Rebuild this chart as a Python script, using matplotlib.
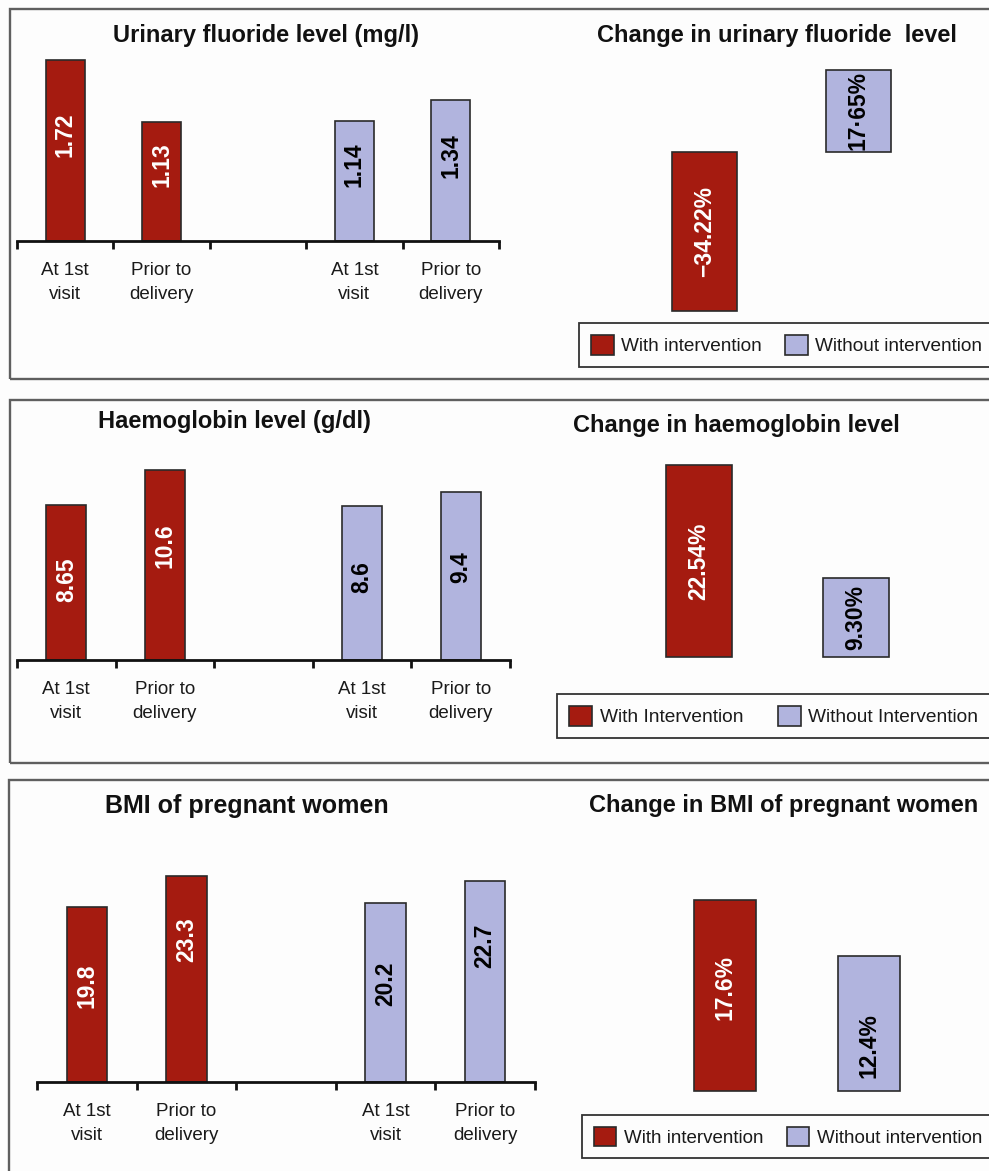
import numpy as np
import matplotlib
matplotlib.use('Agg')
import matplotlib.pyplot as plt
from matplotlib.patches import Rectangle, Patch

plt.rcParams['font.family'] = ['Liberation Sans', 'DejaVu Sans']

# ---------------- data ----------------
categories = ['At 1st\nvisit', 'Prior to\ndelivery', '', 'At 1st\nvisit', 'Prior to\ndelivery']

fluoride_with = [1.72, 1.13]
fluoride_without = [1.14, 1.34]
fluoride_change = [-34.22, 17.65]
fluoride_change_labels = ['\u221234.22%', '17\u00b765%']

hb_with = [8.65, 10.6]
hb_without = [8.6, 9.4]
hb_change = [22.54, 9.30]
hb_change_labels = ['22.54%', '9.30%']

bmi_with = [19.8, 23.3]
bmi_without = [20.2, 22.7]
bmi_change = [17.6, 12.4]
bmi_change_labels = ['17.6%', '12.4%']

titles_left = ['Urinary fluoride level (mg/l)', 'Haemoglobin level (g/dl)', 'BMI of pregnant women']
titles_right = ['Change in urinary fluoride  level', 'Change in haemoglobin level',
                'Change in BMI of pregnant women']
legend_labels = [['With intervention', 'Without intervention'],
                 ['With Intervention', 'Without Intervention'],
                 ['With intervention', 'Without intervention']]

# ---------------- style ----------------
W, H = 989, 1171
RED = '#A51B10'
BLUE = '#B1B4DE'
EDGE = '#2A2A2A'
FRAME = '#5F5F5F'

fig = plt.figure(figsize=(W / 100, H / 100), dpi=100)
fig.patch.set_facecolor('#FDFDFD')


def px_axes(x0, y0, x1, y1):
    ax = fig.add_axes([x0 / W, 1 - y1 / H, (x1 - x0) / W, (y1 - y0) / H])
    ax.patch.set_alpha(0)
    return ax


def left_chart(x0, x1, y_base, scale, with_vals, without_vals, label_pos, title, title_xy,
               title_size=17):
    top_px = 230
    ax = px_axes(x0, y_base - top_px, x1, y_base)
    ax.set_xlim(-0.5, 4.5)
    ax.set_ylim(0, top_px / scale)
    vals = list(with_vals) + list(without_vals)
    xs = [0, 1, 3, 4]
    cols = [RED, RED, BLUE, BLUE]
    ax.bar(xs, vals, width=0.405, color=cols, edgecolor=EDGE, linewidth=1.2, zorder=2)
    for x, v, f, c in zip(xs, vals, label_pos, cols):
        ax.text(x, v * f, f'{v:g}', rotation=90, ha='center', va='center',
                fontsize=16.5, fontweight='bold',
                color='white' if c == RED else 'black', zorder=3)
    for s in ['top', 'right', 'left']:
        ax.spines[s].set_visible(False)
    ax.spines['bottom'].set_linewidth(2.0)
    ax.spines['bottom'].set_color('#111111')
    ax.set_yticks([])
    ax.set_xticks(range(5))
    ax.set_xticklabels(categories, fontsize=13.5, linespacing=1.55, color='#1a1a1a')
    ax.tick_params(axis='x', which='major', length=0, pad=15)
    ax.set_xticks(np.arange(-0.5, 5, 1), minor=True)
    ax.tick_params(axis='x', which='minor', length=6, width=2, direction='out', color='#111111')
    fig.text(title_xy[0] / W, 1 - title_xy[1] / H, title, ha='center', va='baseline',
             fontsize=title_size, fontweight='bold', color='#111111')
    return ax


def right_chart(cx_red, cx_blue, bar_px, y_top, y_bot, y_zero, scale, values, labels,
                label_frac, title, title_xy, leg_labels, leg_xy, colspace, leg_size):
    slot = cx_blue - cx_red
    ax = px_axes(cx_red - slot / 2, y_top, cx_blue + slot / 2, y_bot)
    ax.set_xlim(-0.5, 1.5)
    ax.set_ylim(-(y_bot - y_zero) / scale, (y_zero - y_top) / scale)
    ax.bar([0, 1], values, width=bar_px / slot, color=[RED, BLUE], edgecolor=EDGE,
           linewidth=1.2, zorder=2)
    for x, v, lab, f, c in zip([0, 1], values, labels, label_frac, ['white', 'black']):
        ax.text(x, v * f, lab, rotation=90, ha='center', va='center', fontsize=16.5,
                fontweight='bold', color=c, zorder=3)
    ax.axis('off')
    fig.text(title_xy[0] / W, 1 - title_xy[1] / H, title, ha='center', va='baseline',
             fontsize=17, fontweight='bold', color='#111111')
    handles = [Patch(facecolor=RED, edgecolor=EDGE, linewidth=1.2),
               Patch(facecolor=BLUE, edgecolor=EDGE, linewidth=1.2)]
    leg = fig.legend(handles, leg_labels, loc='upper left',
                     bbox_to_anchor=(leg_xy[0] / W, 1 - leg_xy[1] / H), ncol=2,
                     fontsize=leg_size, frameon=True, fancybox=False, framealpha=1,
                     facecolor='#FDFDFD', edgecolor='#333333', borderpad=0.62,
                     handlelength=1.2, handleheight=1.25, handletextpad=0.4,
                     columnspacing=colspace, borderaxespad=0)
    leg.get_frame().set_linewidth(1.3)
    for t in leg.get_texts():
        t.set_color('#1a1a1a')
    return ax


# panel frames
for (x0, y0, x1, y1) in [(9.5, 8.5, 1010, 378.5), (10, 400, 1010, 763), (8.5, 780, 1010, 1190)]:
    fig.add_artist(Rectangle((x0 / W, 1 - y1 / H), (x1 - x0) / W, (y1 - y0) / H,
                             transform=fig.transFigure, fill=False, edgecolor=FRAME,
                             linewidth=1.7))

# ----- panel 1 -----
left_chart(17, 499, 241, 105.0, fluoride_with, fluoride_without,
           [0.59, 0.64, 0.64, 0.61], titles_left[0], (266, 42))
right_chart(704.5, 858.5, 65, 50, 320, 152, 4.65, fluoride_change, fluoride_change_labels,
            [0.5, 0.5], titles_right[0], (777, 42), legend_labels[0], (579, 323), 1.2, 13.7)

# ----- panel 2 -----
left_chart(17, 510, 660, 17.9, hb_with, hb_without,
           [0.52, 0.60, 0.54, 0.55], titles_left[1], (234, 428))
right_chart(698.5, 855.5, 66, 440, 690, 657, 8.5, hb_change, hb_change_labels,
            [0.5, 0.5], titles_right[1], (736, 432), legend_labels[1], (557, 694), 1.8, 13.8)

# ----- panel 3 -----
left_chart(37, 535, 1082, 8.85, bmi_with, bmi_without,
           [0.55, 0.69, 0.55, 0.68], titles_left[2], (247, 813), title_size=18)
right_chart(725, 869, 62, 850, 1110, 1091, 10.85, bmi_change, bmi_change_labels,
            [0.54, 0.34], titles_right[2], (784, 812), legend_labels[2], (582, 1115), 1.25, 13.5)

fig.savefig('out.png', dpi=100, facecolor=fig.get_facecolor())
